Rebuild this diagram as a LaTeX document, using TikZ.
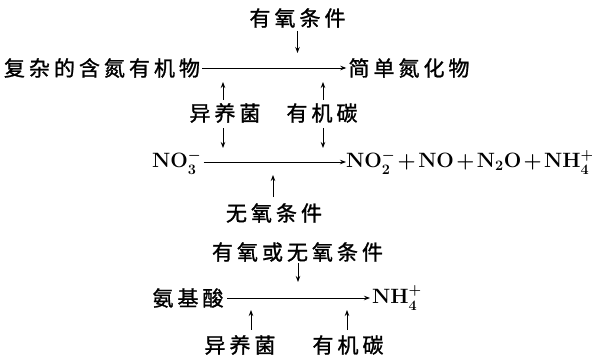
\documentclass[tikz,border=0pt]{standalone}
\usepackage{fontspec}
\newfontfamily\cjk{Noto Sans CJK SC}[FakeBold=1.2]
\usetikzlibrary{arrows.meta}
\newlength\cw
\setlength\cw{25pt}
\makeatletter
\def\spreadcjk#1{\spread@a#1\@nil}
\def\spread@a#1{\ifx#1\@nil\else\makebox[\cw]{#1}\expandafter\spread@a\fi}
\makeatother
\newcommand\chemsize{\fontsize{20.5}{24}\selectfont\boldmath\medmuskip=1.8mu\relax}
\begin{document}
\begin{tikzpicture}[x=1pt,y=-1pt,
  lab/.style={inner sep=0pt, font=\cjk\fontsize{21}{25}\selectfont},
  chem/.style={inner sep=0pt, font=\chemsize},
  arr/.style={-{Stealth[length=6pt,width=4.5pt]}, line width=0.9pt}]
\useasboundingbox (0,0) rectangle (592,358);
% row 1
\node[lab] (top1) at (297.5,18) {\spreadcjk{有氧条件}};
\node[lab] (src1) at (102,68) {\spreadcjk{复杂的含氮有机物}};
\node[lab] (dst1) at (409,68) {\spreadcjk{简单氮化物}};
\node[lab] (mid1) at (225,113) {\spreadcjk{异养菌}};
\node[lab] (mid2) at (322,113) {\spreadcjk{有机碳}};
% row 2
\node[chem, anchor=west] (src2) at (152,162) {$\mathbf{NO}_3^-$};
\node[chem, anchor=west] (dst2) at (346,162) {$\mathbf{NO}_2^- + \mathbf{NO} + \mathbf{N}_2\mathbf{O} + \mathbf{NH}_4^+$};
\node[lab] (bot2) at (274,213) {\spreadcjk{无氧条件}};
% row 3
\node[lab] (top3) at (297.5,252) {\spreadcjk{有氧或无氧条件}};
\node[lab] (src3) at (188,298) {\spreadcjk{氨基酸}};
\node[chem, anchor=west] (dst3) at (372,298) {$\mathbf{NH}_4^+$};
\node[lab] (bot3a) at (240,345) {\spreadcjk{异养菌}};
\node[lab] (bot3b) at (348,345) {\spreadcjk{有机碳}};
% coordinates (arrow tips)
\coordinate (t1) at (297.5,53);
\coordinate (u1) at (223,82);
\coordinate (u2) at (323,82);
\coordinate (d1) at (223,148);
\coordinate (d2) at (323,148);
\coordinate (u3) at (273,175);
\coordinate (t3) at (298,282);
\coordinate (u4) at (251,310);
\coordinate (u5) at (347,310);
% horizontal arrows
\draw[arr] (src1.east) -- (dst1.west);
\draw[arr, shorten <=2pt] (src2.east) -- (dst2.west);
\draw[arr, shorten <=1.5pt, shorten >=2pt] (src3.east) -- (dst3.west);
% vertical arrows
\draw[arr, shorten <=3pt] (top1.south) -- (t1);
\draw[arr, shorten <=3pt] (mid1.north -| u1) -- (u1);
\draw[arr, shorten <=3pt] (mid2.north -| u2) -- (u2);
\draw[arr, shorten <=5pt] (mid1.south -| d1) -- (d1);
\draw[arr, shorten <=5pt] (mid2.south -| d2) -- (d2);
\draw[arr, shorten <=6pt] (bot2.north -| u3) -- (u3);
\draw[arr, shorten <=1pt] (top3.south -| t3) -- (t3);
\draw[arr, shorten <=5pt] (bot3a.north -| u4) -- (u4);
\draw[arr, shorten <=5pt] (bot3b.north -| u5) -- (u5);
\end{tikzpicture}
\end{document}
